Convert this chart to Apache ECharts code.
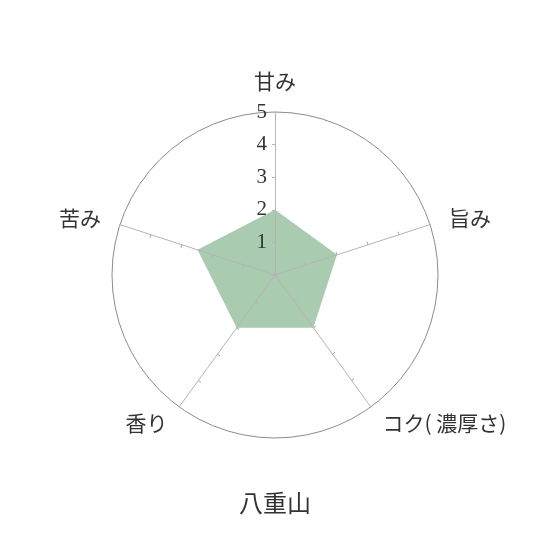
<!DOCTYPE html>
<html>
<head>
<meta charset="utf-8">
<script src="https://cdn.jsdelivr.net/npm/echarts@6/dist/echarts.min.js"></script>
<style>html,body{margin:0;padding:0;background:#fff}#c{width:550px;height:550px}</style>
</head>
<body>
<div id="c"></div>
<script>
const title = '八重山';
// listed clockwise from the top, as in the picture
const indicators = ['甘み', '旨み', 'コク( 濃厚さ)', '香り', '苦み'];
const values = [2, 2, 2, 2, 2.5];
const maxValue = 5;
const tickLabels = ['', '1', '2', '3', '4', '5'];

const serif = "'Liberation Serif','Noto Sans CJK JP',serif";
const jp = "'Noto Sans CJK JP',sans-serif";

// ECharts places indicators counter-clockwise, so keep the first and reverse the rest
const order = [0].concat(indicators.map((_, i) => i).slice(1).reverse());

function makeIndicators(withLabel) {
  return order.map((k, i) => {
    const o = { name: indicators[k], max: maxValue, min: 0 };
    if (withLabel && i === 0) o.axisLabel = { show: true };
    return o;
  });
}

const chart = echarts.init(document.getElementById('c'), null, { renderer: 'canvas' });
chart.setOption({
  animation: false,
  backgroundColor: '#fff',
  title: {
    text: title, left: 'center', top: 486,
    textStyle: { fontFamily: jp, fontSize: 24, fontWeight: 'normal', color: '#333' }
  },
  radar: [{
    z: 3,
    center: ['50%', '50%'], radius: 163, shape: 'circle', startAngle: 90,
    splitNumber: 5,
    indicator: makeIndicators(true),
    axisName: { color: '#333', fontSize: 21, fontFamily: jp },
    nameGap: 20,
    axisLine: { lineStyle: { color: '#b5b5b5', width: 1 } },
    axisTick: { show: true, length: 3, lineStyle: { color: '#b5b5b5' } },
    axisLabel: {
      show: false, color: '#333', fontSize: 21, fontFamily: serif, margin: 8,
      formatter: (v) => tickLabels[Math.round(v)] || ''
    },
    splitLine: { show: true, lineStyle: { color: ['transparent','transparent','transparent','transparent','transparent','#8c8c8c'], width: 1 } },
    splitArea: { show: false }
  }, {
    z: 3,
    center: ['50%', '50%'], radius: 163, shape: 'circle', startAngle: 90,
    splitNumber: 5,
    indicator: makeIndicators(false),
    axisName: { show: false },
    axisLine: { show: false },
    axisTick: { show: true, inside: true, length: 3, lineStyle: { color: '#b5b5b5' } },
    axisLabel: { show: false },
    splitLine: { show: false },
    splitArea: { show: false }
  }],
  series: [{
    type: 'radar', radarIndex: 0, symbol: 'none', z: 1,
    lineStyle: { width: 0, color: '#a9cbb0' },
    areaStyle: { color: '#a9cbb0', opacity: 1 },
    data: [{ value: order.map(k => values[k]), name: title }]
  }]
});
</script>
</body>
</html>
